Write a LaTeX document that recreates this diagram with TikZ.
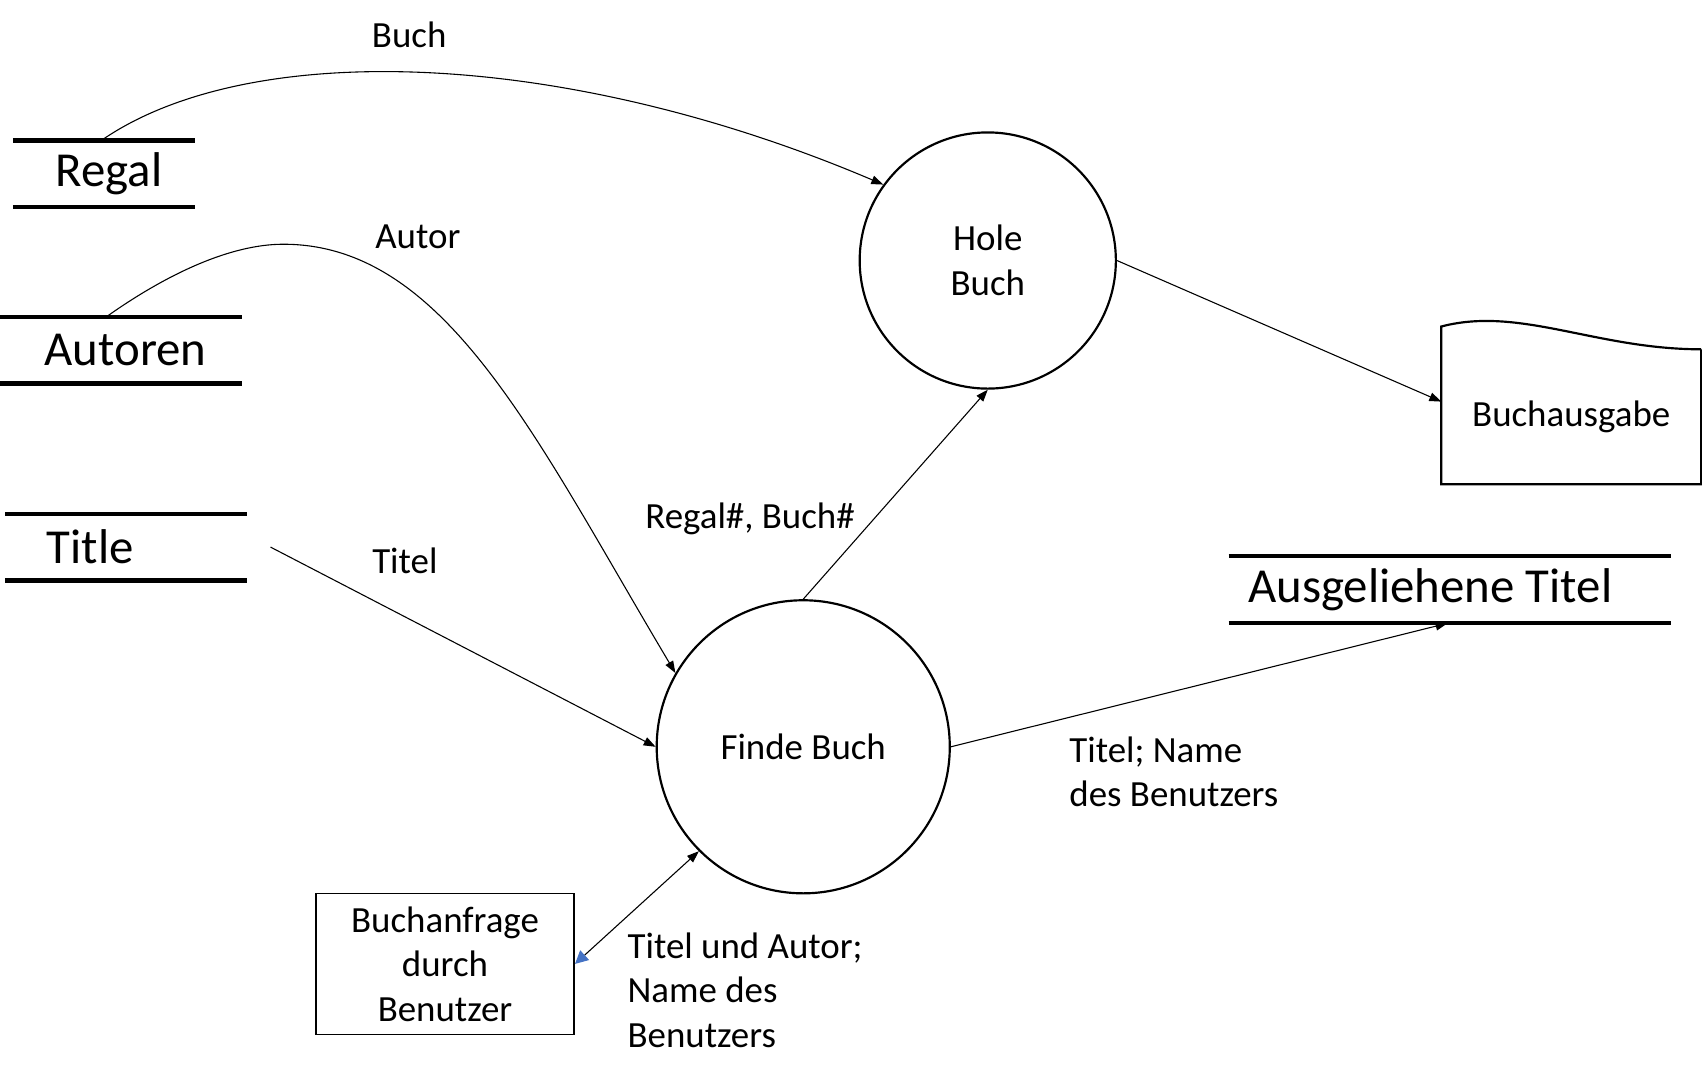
\documentclass[tikz,border=0pt]{standalone}
\usepackage{fontspec}
\setmainfont{Carlito}
\usetikzlibrary{arrows.meta,positioning,calc}
\definecolor{tipblue}{HTML}{4472C4}

\begin{document}
\begin{tikzpicture}[x=1pt,y=-1pt,
      lbl/.style={inner sep=0pt,font=\fontsize{34}{41}\selectfont,align=flush left},
      flow/.style={line width=1pt,-{Triangle[length=11pt,width=8pt]}},
      storeline/.style={draw,line width=4pt},
      store/.style={inner sep=0pt,minimum height=61pt,font=\fontsize{45}{54}\selectfont,
        append after command={(\tikzlastnode.north west) edge[storeline] (\tikzlastnode.north east)
          (\tikzlastnode.south west) edge[storeline] (\tikzlastnode.south east)}},
      process/.style={circle,draw,line width=2pt,align=flush center,font=\fontsize{34}{41}\selectfont},
      source/.style={rectangle,draw,line width=1.5pt,align=flush center,inner sep=0pt,font=\fontsize{34}{41}\selectfont},
      doc/.style={rectangle,inner sep=0pt,font=\fontsize{34}{41}\selectfont}]
      \useasboundingbox (0,0) rectangle (1568,995);
      \node[store,minimum width=167pt,text width=167pt,align=flush center] (regal) at (95.5,160) {\hspace*{10pt}Regal};
      \node[store,inner xsep=41pt,text width=141pt,align=flush left] (autoren) at (111.5,322.5) {Autoren};
      \node[store,inner xsep=38pt,text width=146pt,align=flush left] (title) at (116,504) {Title};
      \node[store,inner xsep=18pt,text width=371pt,align=flush left] (ausg) at (1335.5,543) {Ausgeliehene Titel};
      \node[process,minimum size=236pt] (hole) at (910,240) {Hole\\Buch};
      \node[process,minimum size=270pt] (finde) at (740,688) {Finde Buch};
      \node[source,minimum width=238pt,minimum height=130pt] (anfrage) at (410,888) {Buchanfrage\\durch\\Benutzer};
      \node[doc,minimum width=239pt,minimum height=124pt] (ausgabe) at (1447.5,384) {Buchausgabe};
      \draw[line width=2pt] (ausgabe.north east) -- (ausgabe.south east) -- (ausgabe.south west)
        -- ([yshift=21pt]ausgabe.north west) .. controls +(72,-19) and +(-97,0) .. (ausgabe.north east);

      \draw[flow] ([xshift=-2pt]regal.north) .. controls (230,35) and (520,45) .. (hole.144);
      \draw[flow] ($(autoren.north west)!0.44!(autoren.north east)$) .. controls (150,255) and (210,225) .. (261,225)
        .. controls (411,225) and (494,405) .. (finde.150);
      \path ([xshift=22pt]title.east) edge[flow] (finde.west);
      \path (finde.north) edge[flow] (hole.south);
      \path (hole.east) edge[flow] ([yshift=14pt]ausgabe.west);
      \path (finde.east) edge[flow,shorten >=2pt] (ausg.south);
      \draw[line width=1pt,{Triangle[length=12pt,width=12pt,color=tipblue]}-{Triangle[length=11pt,width=8pt]}] (anfrage.east) -- (finde.225);

      \node[lbl] (buchlbl) at (377,32) {Buch};
      \node[lbl] (autorlbl) at (385,218) {Autor};
      \node[lbl] (titellbl) at (373,517) {Titel};
      \node[lbl] (regbuchlbl) at (691,478) {Regal\#, Buch\#};
      \node[lbl,anchor=west] (ausglbl) at (985,711) {Titel; Name\\des Benutzers};
      \node[lbl,anchor=west] (anfragelbl) at (578,912) {Titel und Autor;\\Name des\\Benutzers};
    \end{tikzpicture}
\end{document}
